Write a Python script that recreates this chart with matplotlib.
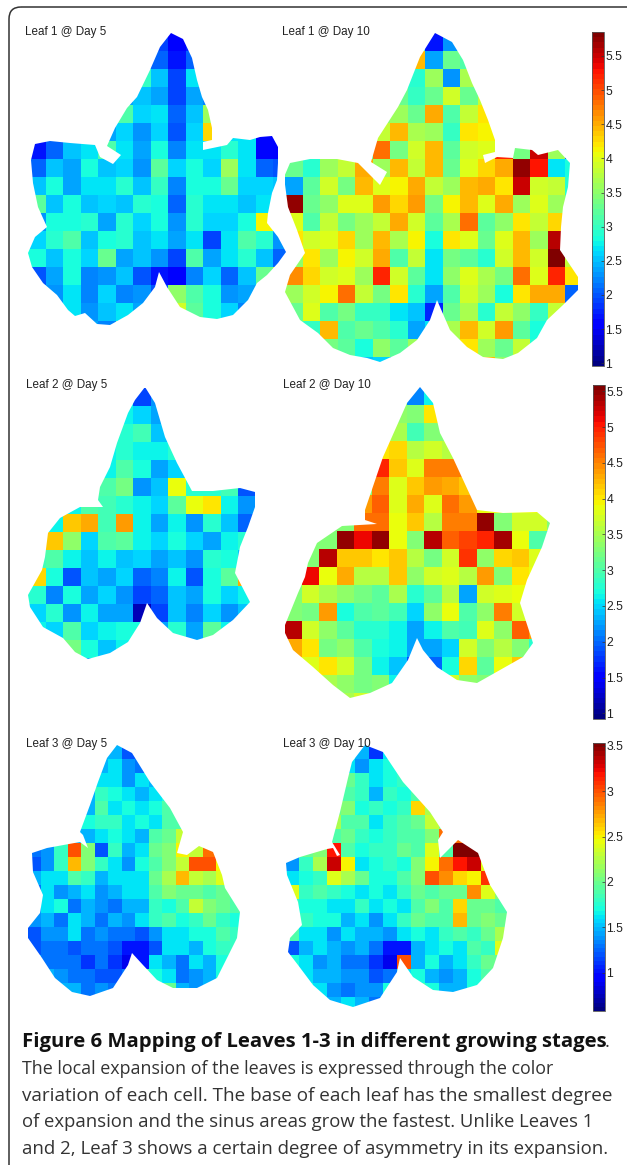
"""Leaf expansion maps, three leaves at day 5 and day 10."""
import numpy as np
from matplotlib import pyplot as plt
from matplotlib.cm import ScalarMappable
from matplotlib.colors import Normalize
from matplotlib.patches import FancyBboxPatch, Polygon

# row limits of the colour scale
scale_1 = (0.96, 5.85)
scale_2 = (0.92, 5.59)
scale_3 = (0.58, 3.53)
ticks_1 = [1, 1.5, 2, 2.5, 3, 3.5, 4, 4.5, 5, 5.5]
ticks_3 = [1, 1.5, 2, 2.5, 3, 3.5]

leaf1_day5 = [
    [2.4, 2.4, 2.4, 2.4, 2.4, 2.4, 2.4, 1.9, 1.5, 1.8, 2.0],
    [2.4, 2.4, 2.4, 2.4, 2.4, 2.4, 2.4, 2.1, 1.7, 2.1, 2.2],
    [2.4, 2.4, 2.4, 2.4, 2.4, 2.4, 3.0, 2.5, 1.9, 2.7, 2.6],
    [2.4, 2.4, 2.4, 2.4, 2.4, 2.4, 2.5, 2.4, 1.9, 2.4, 2.2],
    [2.4, 2.4, 2.4, 2.4, 2.4, 3.1, 2.6, 2.7, 2.1, 2.5, 3.6],
    [2.4, 2.4, 2.4, 2.4, 2.4, 2.6, 2.3, 2.6, 2.0, 2.6, 4.3, 2.7, 2.7, 1.6, 1.5],
    [1.7, 2.1, 2.5, 2.7, 3.1, 2.7, 2.4, 2.8, 2.2, 2.7, 2.7, 2.9, 2.7, 1.6, 1.5],
    [2.1, 2.5, 2.4, 2.8, 2.5, 2.6, 2.3, 3.2, 2.6, 2.8, 2.6, 3.6, 2.7, 2.1, 2.0],
    [2.5, 2.8, 2.4, 2.7, 2.7, 2.9, 2.5, 3.0, 2.2, 2.8, 2.8, 3.3, 2.6, 2.6, 2.5],
    [3.2, 2.5, 2.8, 2.5, 2.6, 2.5, 2.9, 2.8, 2.1, 2.9, 2.7, 2.7, 2.5, 2.7, 2.6],
    [2.3, 2.8, 2.8, 2.9, 2.4, 2.9, 2.6, 2.8, 2.3, 2.9, 2.6, 2.6, 2.8, 4.1, 2.7],
    [2.6, 2.9, 3.1, 2.5, 2.8, 2.9, 2.5, 2.7, 2.4, 2.7, 1.9, 2.7, 3.1, 2.9, 2.3],
    [2.8, 2.5, 2.8, 2.6, 3.3, 2.4, 2.5, 2.3, 1.9, 3.1, 2.4, 2.7, 2.9, 2.5, 2.1],
    [2.0, 2.4, 2.8, 2.2, 2.3, 2.5, 2.0, 1.7, 1.5, 2.2, 2.6, 2.1, 2.5, 3.3, 3.8],
    [2.6, 2.3, 2.7, 2.2, 2.6, 2.2, 2.3, 2.0, 3.5, 3.1, 2.8, 2.3, 2.4, 3.2, 2.7],
    [2.7, 2.5, 2.7, 2.3, 2.5, 2.7, 2.4, 2.7, 3.9, 3.2, 2.8, 2.6, 2.2, 2.7],
    [2.6, 2.6, 2.6, 2.4, 2.2, 3.7, 2.8, 2.6, 2.8, 3.1, 2.6, 2.6, 2.6, 2.6],
]
leaf1_day10 = [
    [3.4, 3.4, 3.4, 3.4, 3.4, 3.4, 3.4, 3.0, 1.7, 2.3, 2.9, 3.0],
    [3.4, 3.4, 3.4, 3.4, 3.4, 3.4, 3.4, 4.4, 2.4, 3.3, 3.1, 3.3],
    [3.4, 3.4, 3.4, 3.4, 3.4, 3.4, 3.4, 2.9, 3.6, 2.3, 3.7, 4.2],
    [3.4, 3.4, 3.4, 3.4, 3.4, 3.4, 3.3, 3.0, 3.3, 3.9, 3.3, 3.8, 3.9],
    [3.4, 3.4, 3.4, 3.4, 3.4, 3.5, 3.6, 3.3, 4.5, 3.1, 3.8, 4.2, 4.7],
    [3.4, 3.4, 3.4, 3.4, 3.3, 3.8, 4.4, 3.7, 3.6, 3.0, 4.2, 4.1, 4.0, 4.8],
    [3.4, 3.4, 3.4, 3.4, 3.2, 4.8, 3.4, 3.9, 4.4, 3.2, 3.9, 4.0, 5.2, 3.4, 5.5, 3.6, 1.9],
    [3.3, 2.9, 3.6, 3.8, 4.5, 3.6, 4.4, 3.8, 4.4, 3.3, 4.0, 4.3, 4.5, 5.7, 5.3, 2.7, 2.8],
    [2.4, 3.2, 3.9, 3.4, 4.4, 4.0, 4.1, 4.5, 3.8, 3.6, 4.4, 4.5, 4.2, 5.5, 3.9, 3.8, 2.9],
    [5.7, 3.3, 3.5, 4.0, 4.0, 4.6, 4.3, 4.6, 3.4, 4.1, 4.4, 4.0, 4.5, 3.6, 4.0, 3.6, 3.4],
    [4.0, 3.1, 3.8, 3.4, 3.6, 3.8, 4.5, 3.9, 3.2, 3.7, 4.8, 3.2, 3.5, 4.2, 3.8, 4.3, 3.4],
    [4.2, 3.9, 4.0, 4.3, 3.6, 4.4, 3.7, 4.1, 2.8, 4.2, 4.0, 3.3, 4.0, 4.4, 3.6, 5.6, 3.4],
    [3.5, 4.2, 3.6, 4.1, 3.9, 4.5, 3.1, 3.8, 2.7, 3.4, 3.2, 2.9, 3.9, 4.4, 3.9, 5.8, 3.8],
    [4.7, 4.3, 3.9, 4.0, 3.6, 5.2, 3.9, 3.2, 2.7, 3.5, 4.0, 3.7, 3.4, 4.8, 4.0, 5.2, 4.2],
    [3.6, 3.9, 4.1, 4.8, 3.8, 3.4, 4.2, 2.9, 2.4, 3.1, 3.9, 3.6, 2.8, 4.2, 4.5, 4.5, 2.1],
    [3.3, 4.0, 3.1, 3.4, 3.0, 3.0, 2.7, 2.5, 1.8, 3.3, 3.7, 2.9, 3.8, 3.5, 3.0, 3.8, 3.4],
    [3.4, 3.0, 4.4, 3.1, 3.3, 3.1, 2.9, 2.4, 2.7, 3.7, 4.4, 3.9, 4.6, 3.2, 2.8, 3.4],
    [3.4, 3.4, 3.4, 3.2, 2.8, 3.5, 3.2, 3.6, 3.0, 3.4, 4.2, 3.6, 3.3, 3.8, 2.9, 3.4],
    [3.4, 3.4, 3.4, 3.3, 2.5, 2.6, 2.0, 3.0, 3.3, 3.4, 3.4, 4.4, 3.5, 3.3, 2.7, 3.4],
]
leaf2_day5 = [
    [2.6, 2.6, 2.6, 2.6, 2.6, 2.6, 1.8, 2.2, 2.2],
    [2.6, 2.6, 2.6, 2.6, 2.6, 2.6, 2.5, 2.3, 2.6],
    [2.6, 2.6, 2.6, 2.6, 2.6, 2.8, 2.9, 2.4, 2.7],
    [2.6, 2.6, 2.6, 2.6, 2.6, 2.8, 2.6, 2.6, 2.8, 3.1],
    [2.6, 2.6, 2.6, 2.6, 2.6, 3.0, 2.7, 2.3, 2.5, 3.0],
    [2.6, 2.6, 2.6, 2.6, 3.0, 3.2, 2.2, 2.4, 3.9, 2.8, 2.8, 2.9, 1.9],
    [2.6, 2.6, 2.6, 3.0, 2.9, 2.8, 2.6, 2.5, 3.1, 3.9, 4.0, 2.6, 2.2],
    [2.6, 2.6, 4.2, 4.3, 2.9, 4.4, 2.6, 2.3, 2.6, 2.2, 2.8, 2.4, 2.0],
    [2.6, 4.2, 3.4, 2.5, 3.0, 3.1, 2.6, 2.5, 2.7, 2.5, 2.3, 2.6, 2.8],
    [2.9, 3.0, 2.6, 2.4, 2.6, 2.4, 2.5, 2.3, 2.4, 2.2, 2.8, 2.7, 2.4],
    [4.1, 2.7, 1.9, 2.4, 2.3, 2.5, 2.0, 2.1, 2.6, 1.9, 2.7, 3.1, 4.3],
    [2.8, 2.1, 2.7, 2.3, 2.5, 2.2, 1.8, 2.0, 2.4, 2.3, 2.7, 2.5, 2.6],
    [2.5, 2.8, 2.2, 2.6, 2.3, 2.3, 1.2, 1.8, 2.4, 2.1, 2.5, 2.2, 2.4, 2.6],
    [2.6, 2.5, 3.0, 2.5, 2.6, 2.7, 2.7, 2.3, 2.8, 2.3, 3.1, 2.6, 2.6],
    [2.6, 2.6, 3.2, 2.7, 2.4, 2.6, 2.5, 3.0, 2.5, 2.4, 2.8, 2.6],
    [2.6, 2.6, 2.8, 2.3, 2.5, 2.9, 2.4, 2.8, 3.2, 2.2, 2.3, 2.6],
]
leaf2_day10 = [
    [3.3, 3.3, 3.3, 3.3, 3.3, 3.3, 3.3, 2.1, 2.6, 3.3],
    [3.3, 3.3, 3.3, 3.3, 3.3, 3.3, 3.4, 3.3, 4.0, 3.3],
    [3.3, 3.3, 3.3, 3.3, 3.3, 3.3, 3.5, 2.9, 3.3, 3.3],
    [3.3, 3.3, 3.3, 3.3, 3.3, 4.0, 4.1, 3.6, 3.7, 3.6],
    [3.3, 3.3, 3.3, 3.3, 3.3, 5.0, 4.2, 3.8, 4.5, 4.5],
    [3.3, 3.3, 3.3, 3.3, 3.3, 4.5, 3.8, 4.2, 4.4, 4.3, 4.2],
    [3.3, 3.3, 3.3, 3.3, 4.4, 4.7, 3.8, 4.3, 3.8, 4.6, 4.4, 3.9],
    [3.3, 3.3, 3.3, 3.3, 4.6, 4.6, 3.9, 4.2, 3.6, 4.5, 4.5, 5.5, 3.3, 3.7, 3.7, 3.3],
    [3.3, 3.3, 3.3, 5.5, 5.1, 5.5, 3.9, 3.3, 5.3, 4.7, 4.8, 5.0, 5.4, 3.9, 3.0, 2.2],
    [3.3, 3.3, 5.3, 4.2, 4.2, 4.0, 4.2, 3.6, 3.2, 3.7, 4.9, 3.4, 4.1, 4.2, 3.8, 4.3],
    [3.3, 5.1, 3.9, 4.3, 3.6, 3.6, 4.2, 3.4, 3.7, 3.8, 3.6, 4.4, 3.3, 4.0, 3.9, 3.0],
    [3.3, 3.7, 3.5, 3.4, 3.2, 3.1, 3.5, 2.8, 3.1, 3.6, 2.3, 3.7, 3.8, 3.9, 3.9, 3.4],
    [3.3, 3.2, 4.4, 2.7, 3.0, 3.1, 2.9, 2.5, 3.4, 3.9, 3.0, 3.4, 4.5, 3.7, 4.0, 3.3],
    [5.3, 3.7, 3.4, 3.1, 2.8, 2.8, 2.6, 2.3, 2.6, 3.0, 2.9, 3.8, 3.4, 4.7, 4.4, 3.3],
    [4.3, 4.0, 3.2, 3.4, 3.0, 2.7, 2.6, 2.3, 2.3, 2.5, 3.7, 3.3, 3.6, 3.3, 2.8, 3.3],
    [3.9, 3.8, 4.0, 3.7, 3.2, 2.6, 2.4, 1.9, 2.0, 2.7, 4.1, 3.1, 3.9, 4.2, 3.3, 3.3],
    [4.6, 4.1, 3.5, 3.4, 3.2, 3.3, 2.6, 1.2, 2.0, 3.7, 3.4, 3.3, 3.6, 3.8, 3.5, 3.3],
    [3.3, 3.0, 4.1, 3.5, 3.7, 3.0, 3.3, 3.1, 2.9, 4.3, 3.6, 3.8, 4.0, 3.9, 4.5, 3.3],
]
leaf3_day5 = [
    [1.5, 1.5, 1.5, 1.5, 1.5, 1.5, 1.5, 1.2, 1.3, 1.4, 1.5],
    [1.5, 1.5, 1.5, 1.5, 1.5, 1.5, 1.6, 1.4, 1.3, 1.6, 1.6],
    [1.5, 1.5, 1.5, 1.5, 1.5, 1.6, 1.6, 1.4, 1.6, 1.5, 1.8],
    [1.5, 1.5, 1.5, 1.5, 1.5, 1.8, 1.7, 1.6, 1.5, 1.6, 1.7, 1.9],
    [1.5, 1.5, 1.5, 1.5, 1.5, 1.9, 1.6, 1.7, 1.6, 1.7, 1.9, 2.1],
    [1.5, 1.5, 1.5, 1.5, 1.7, 1.8, 1.8, 1.6, 1.7, 1.6, 1.9, 1.9, 1.9],
    [1.5, 1.5, 1.5, 1.5, 1.5, 1.6, 1.7, 1.6, 1.5, 1.9, 2.0, 2.3, 2.8],
    [1.3, 1.4, 1.8, 3.0, 2.1, 1.2, 1.8, 1.5, 1.6, 2.0, 2.1, 2.5, 2.3, 2.9, 2.7, 2.0],
    [1.2, 1.4, 1.8, 2.7, 2.1, 1.8, 1.6, 1.4, 1.7, 1.9, 2.1, 2.3, 3.0, 3.0, 2.5, 2.0],
    [1.5, 1.6, 1.6, 1.9, 1.8, 1.5, 1.6, 1.6, 1.6, 2.0, 2.2, 2.7, 2.3, 2.2, 2.4, 1.6],
    [1.3, 1.6, 1.4, 1.5, 1.6, 1.4, 1.5, 1.6, 1.6, 1.9, 2.1, 2.0, 2.0, 1.9, 2.0, 1.9],
    [1.4, 1.6, 1.7, 1.3, 1.5, 1.4, 1.3, 1.5, 1.5, 1.8, 1.7, 1.9, 2.3, 2.1, 2.0, 1.9],
    [1.4, 1.5, 1.3, 1.6, 1.5, 1.3, 1.5, 1.4, 1.6, 1.8, 1.9, 1.7, 1.8, 2.0, 1.8, 1.7],
    [1.2, 1.4, 1.4, 1.6, 1.3, 1.4, 1.3, 1.3, 1.2, 1.4, 1.6, 1.6, 1.7, 1.7, 1.9, 1.8],
    [1.2, 1.3, 1.3, 1.2, 1.3, 1.3, 1.2, 1.0, 1.0, 1.2, 1.6, 1.6, 1.5, 1.7, 1.8, 1.8],
    [1.5, 1.3, 1.3, 1.3, 1.1, 1.3, 1.1, 0.9, 1.0, 1.6, 1.5, 1.3, 1.6, 1.5, 1.7, 1.7],
    [1.5, 1.5, 1.4, 1.3, 1.3, 1.2, 1.2, 1.3, 1.9, 1.7, 1.6, 1.3, 1.4, 1.5, 1.7, 1.7],
    [1.5, 1.5, 1.5, 1.5, 1.3, 1.4, 1.3, 1.2, 1.6, 1.6, 2.0, 1.5, 1.4, 1.5, 1.5, 1.5],
]
leaf3_day10 = [
    [1.7, 1.7, 1.7, 1.7, 1.7, 1.5, 1.1, 1.6, 1.8, 1.8],
    [1.7, 1.7, 1.7, 1.7, 1.6, 1.4, 1.6, 1.7, 1.7, 1.7],
    [1.7, 1.7, 1.7, 1.7, 2.0, 1.8, 1.6, 1.7, 1.8, 1.8],
    [1.7, 1.7, 1.7, 2.1, 1.9, 1.8, 1.5, 1.8, 1.7, 1.9, 1.4],
    [1.7, 1.7, 1.7, 2.0, 2.1, 1.7, 1.8, 1.7, 1.8, 2.6, 2.2],
    [1.7, 1.7, 1.7, 2.2, 1.9, 1.9, 1.6, 1.8, 1.9, 2.0, 2.3, 2.1],
    [1.7, 1.7, 1.7, 1.9, 2.0, 1.8, 1.7, 1.8, 1.9, 1.9, 2.1, 2.9],
    [1.8, 2.0, 2.1, 3.2, 1.9, 1.7, 1.8, 1.8, 2.0, 1.9, 2.4, 1.9, 3.5, 3.5, 2.1, 2.0],
    [1.4, 1.8, 2.2, 3.3, 2.5, 1.6, 1.7, 1.8, 1.7, 2.1, 2.5, 2.9, 3.2, 3.3, 2.4, 2.0],
    [1.6, 1.7, 1.8, 2.4, 2.2, 2.0, 1.7, 1.7, 1.9, 2.1, 3.0, 2.8, 2.6, 2.5, 3.1, 2.0],
    [2.4, 1.8, 1.9, 1.8, 1.7, 1.6, 1.7, 1.6, 1.8, 2.0, 1.9, 2.0, 2.0, 2.8, 2.4, 2.1],
    [1.8, 1.7, 1.7, 1.6, 1.6, 1.8, 1.6, 1.7, 1.6, 1.9, 2.1, 1.9, 2.6, 2.0, 2.0, 1.9],
    [1.9, 1.8, 1.7, 1.7, 1.5, 1.6, 1.4, 1.6, 1.8, 2.0, 1.9, 1.9, 2.7, 2.0, 2.1, 2.0],
    [1.9, 1.6, 1.6, 1.4, 1.6, 1.5, 1.5, 1.4, 1.6, 1.7, 1.6, 1.8, 1.9, 1.8, 2.0, 2.2],
    [1.2, 1.5, 1.6, 1.5, 1.4, 1.5, 1.3, 1.0, 1.0, 1.5, 1.6, 1.7, 1.6, 1.9, 1.8, 2.4],
    [1.7, 1.6, 1.4, 1.5, 1.3, 1.3, 1.1, 0.9, 3.0, 1.5, 1.7, 1.5, 1.6, 1.8, 2.0, 2.0],
    [1.7, 1.6, 1.5, 1.5, 1.4, 1.4, 1.2, 1.3, 1.6, 1.7, 1.5, 1.4, 1.5, 1.7, 1.9, 1.8],
    [1.7, 1.7, 1.6, 1.4, 1.3, 1.4, 1.4, 1.7, 1.7, 1.9, 1.7, 1.5, 1.5, 1.7, 1.7, 1.7],
    [1.7, 1.7, 1.7, 1.5, 1.6, 1.5, 1.3, 1.7, 1.7, 1.7, 1.7, 1.7, 1.7, 1.7, 1.7, 1.7],
]

# outlines in the pixels of the page
outline_1a = [(170.7, 33), (183, 39), (192, 58), (197, 80), (202, 97), (208, 110), (212, 128),
              (212, 140), (203, 142), (203, 150), (227, 145), (233, 138), (250, 140), (260, 137),
              (272, 136), (278, 147), (278, 163), (277, 180), (272, 193), (268, 213), (267, 223),
              (278, 237), (286, 252), (278, 263), (267, 275), (257, 283), (248, 300), (233, 315),
              (217, 319), (200, 317), (180, 307), (167, 287), (159, 272), (155, 287), (143, 303),
              (128, 315), (110, 325), (97, 324), (85, 313), (75, 316), (68, 310), (57, 295),
              (43, 283), (32, 267), (28, 253), (35, 237), (47, 227), (38, 207), (33, 183),
              (31, 160), (35, 144), (50, 141), (70, 143), (95, 145), (100, 157), (113, 164),
              (121, 155), (107, 146), (115, 128), (127, 108), (137, 97), (150, 70), (160, 47)]
outline_1b = [(435, 33), (452, 42), (463, 60), (472, 83), (480, 100), (488, 120), (495, 140),
              (495, 152), (483, 155), (485, 163), (497, 157), (513, 158), (515, 148), (532, 150),
              (538, 155), (558, 150), (570, 163), (568, 187), (563, 207), (561, 227), (560, 250),
              (578, 277), (578, 290), (563, 305), (547, 320), (537, 338), (518, 353), (503, 359),
              (483, 357), (467, 347), (450, 330), (437, 300), (430, 320), (417, 340), (400, 353),
              (380, 362), (367, 358), (350, 355), (333, 348), (318, 333), (300, 320), (285, 292),
              (290, 275), (305, 253), (297, 230), (288, 207), (284, 177), (290, 163), (310, 159),
              (337, 159), (358, 163), (372, 177), (380, 185), (387, 172), (371, 162), (378, 138),
              (398, 107), (407, 90), (420, 57)]
outline_2a = [(145, 387), (155, 403), (160, 420), (165, 437), (177, 463), (192, 491), (213, 491),
              (240, 488), (255, 492), (255, 507), (248, 527), (240, 547), (235, 573), (250, 602),
              (233, 620), (213, 635), (197, 640), (173, 633), (157, 618), (147, 603), (140, 623),
              (128, 642), (110, 653), (88, 659), (75, 652), (63, 638), (43, 627), (30, 607),
              (28, 595), (42, 570), (45, 557), (48, 533), (60, 518), (80, 507), (103, 507),
              (98, 500), (100, 487), (110, 467), (117, 443), (128, 413), (135, 400)]
outline_2b = [(420, 387), (433, 403), (440, 433), (453, 458), (477, 510), (503, 513), (537, 512),
              (550, 523), (542, 547), (527, 580), (520, 603), (533, 643), (523, 657), (500, 670),
              (477, 683), (457, 680), (437, 667), (423, 650), (417, 638), (408, 660), (392, 683),
              (370, 693), (350, 698), (333, 685), (313, 667), (293, 650), (285, 633), (285, 625),
              (298, 593), (305, 577), (308, 563), (317, 543), (342, 526), (377, 524), (365, 520),
              (365, 510), (383, 457), (407, 403)]
outline_3a = [(116.7, 745), (132, 753), (150, 782), (170, 808), (183, 832), (177, 853), (187, 855),
              (199, 846), (213, 852), (222, 875), (225, 888), (240, 912), (237, 938), (227, 958),
              (217, 978), (197, 988), (173, 988), (157, 980), (143, 965), (132, 953), (128, 965),
              (113, 988), (90, 996), (72, 992), (55, 978), (42, 958), (28, 938), (28, 928),
              (40, 913), (43, 895), (33, 872), (32, 853), (47, 848), (80, 842), (88, 848),
              (83, 835), (80, 832), (90, 805), (98, 782), (107, 758)]
outline_3b = [(365, 745), (383, 752), (403, 782), (430, 812), (443, 832), (438, 840), (440, 858),
              (458, 840), (478, 853), (490, 885), (507, 912), (503, 938), (493, 968), (477, 985),
              (453, 992), (433, 990), (413, 977), (400, 958), (397, 972), (380, 998), (353, 1007),
              (330, 1000), (313, 985), (298, 965), (288, 952), (290, 938), (302, 925), (298, 902),
              (287, 875), (286, 863), (300, 857), (327, 849), (333, 848), (337, 856), (340, 855),
              (332, 842), (340, 812), (348, 778), (352, 762)]

titles = ['Leaf 1 @ Day 5', 'Leaf 1 @ Day 10', 'Leaf 2 @ Day 5',
          'Leaf 2 @ Day 10', 'Leaf 3 @ Day 5', 'Leaf 3 @ Day 10']
caption_bold = 'Figure 6 Mapping of Leaves 1-3 in different growing stages'
caption_lines = ['The local expansion of the leaves is expressed through the color',
                 'variation of each cell. The base of each leaf has the smallest degree',
                 'of expansion and the sinus areas grow the fastest. Unlike Leaves 1',
                 'and 2, Leaf 3 shows a certain degree of asymmetry in its expansion.']
caption_sizes = [12.9, 13.55, 13.3, 13.45]

W, H = 627, 1165
ARIAL = 'Liberation Sans'
JET = plt.get_cmap('jet', 64)

fig = plt.figure(figsize=(W / 100, H / 100), dpi=100)
ax = fig.add_axes([0, 0, 1, 1])
ax.set_xlim(0, W)
ax.set_ylim(H, 0)
ax.axis('off')


def draw_leaf(rows, outline, x0, y0, cell_w, cell_h, limits):
    # short rows stop where the leaf stops, the clip hides whatever pads them
    width = max(len(row) for row in rows)
    values = np.array([row + [row[-1]] * (width - len(row)) for row in rows])
    x_edges = x0 + cell_w * np.arange(width + 1)
    y_edges = y0 + cell_h * np.arange(len(rows) + 1)
    mesh = ax.pcolormesh(x_edges, y_edges, values, cmap=JET,
                         vmin=limits[0], vmax=limits[1], linewidth=0)
    mesh.set_clip_path(Polygon(outline, transform=ax.transData))


def draw_scale(y_top, y_bottom, x_left, limits, ticks):
    cax = fig.add_axes([x_left / W, 1 - y_bottom / H, 11.5 / W, (y_bottom - y_top) / H])
    bar = fig.colorbar(ScalarMappable(Normalize(*limits), JET), cax=cax, ticks=ticks)
    bar.ax.set_yticklabels([f'{t:g}' for t in ticks], family=ARIAL, fontsize=8.8, color='#222222')
    bar.ax.tick_params(direction='in', length=2, width=0.5, pad=1.5, color='#333333')
    bar.outline.set_linewidth(0.6)
    bar.outline.set_edgecolor('#555555')


draw_leaf(leaf1_day5, outline_1a, 28, 33, 17.5, 18, scale_1)
draw_leaf(leaf1_day10, outline_1b, 285, 33, 17.5, 18, scale_1)
draw_leaf(leaf2_day5, outline_2a, 28, 388, 17.5, 18, scale_2)
draw_leaf(leaf2_day10, outline_2b, 284, 387, 17.5, 18, scale_2)
draw_leaf(leaf3_day5, outline_3a, 27, 745, 13.5, 14, scale_3)
draw_leaf(leaf3_day10, outline_3b, 285, 745, 14, 14, scale_3)

draw_scale(32, 366, 592, scale_1, ticks_1)
draw_scale(385, 719, 593, scale_2, ticks_1)
draw_scale(743, 1011, 593, scale_3, ticks_3)

title_spots = [(25, 32), (282, 32), (26, 385), (283, 385), (26, 744), (283, 744)]
for (x, y), title in zip(title_spots, titles):
    ax.text(x, y, title, family=ARIAL, fontsize=8.4, color='#222222', va='center', ha='left')

# frame runs off the page on the right and at the bottom
ax.add_patch(FancyBboxPatch((19, 17), 621, 1165, boxstyle='round,pad=10,rounding_size=12',
                            fill=False, edgecolor='#333333', linewidth=1.1))

ax.text(22, 1047, caption_bold, family='Open Sans', weight='bold', fontsize=14.6,
        color='#111111', va='baseline')
ax.text(605, 1047, '.', family='Open Sans', fontsize=13, color='#333333', va='baseline')
for k, line in enumerate(caption_lines):
    ax.text(22, 1074 + k * 26.7, line, family='Open Sans', fontsize=caption_sizes[k],
            color='#333333', va='baseline')

fig.savefig('out.png', dpi=100)
